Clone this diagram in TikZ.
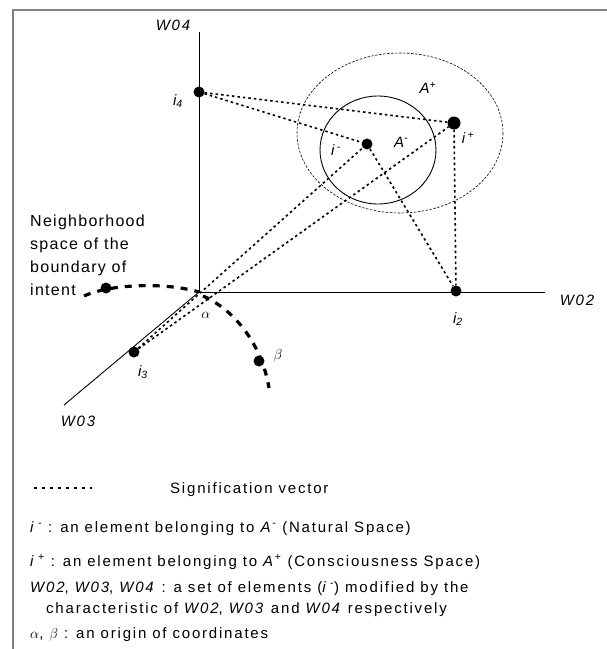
\documentclass[tikz,border=0pt]{standalone}
\usepackage{fontspec}
\setmainfont{Liberation Sans}
\newfontfamily\lblfont{Liberation Sans}[LetterSpace=12]
\newfontfamily\nbhfont{Liberation Sans}[LetterSpace=8]
\tikzset{
  axis/.style={line width=0.9pt},
  sigvec/.style={line width=1.6pt, dash pattern=on 2.5pt off 3pt},
  bound/.style={line width=3.2pt, dash pattern=on 7pt off 7pt},
  elem/.style={circle, fill=black, inner sep=0pt, minimum size=11pt},
  lbl/.style={font=\lblfont\fontsize{15}{18}\selectfont\itshape, inner sep=0pt},
  legend/.style={font=\lblfont\fontsize{15}{18}\selectfont, inner sep=0pt, anchor=base west}
}
\begin{document}
\begin{tikzpicture}[x=1pt,y=-1pt]
\useasboundingbox (0,0) rectangle (607,649);

% ===== frame =====
\draw[gray, line width=1.5pt] (13,649) -- (13,10) -- (607,10);

% ===== axes =====
\coordinate (O) at (199,292);
\coordinate (w4) at (199,32);
\coordinate (w2) at (545,292);
\coordinate (w3) at (64,405);
\draw[axis] (w4) -- (O) -- (w2);
\draw[axis] (O) -- (w3);
\node[lbl] (w4lbl) at (173,25) {W04};
\node[lbl] (w2lbl) at (577,300) {W02};
\node[lbl] (w3lbl) at (78,421) {W03};

% ===== spaces =====
\draw[line width=0.6pt, dash pattern=on 2.5pt off 1.5pt] (400,133) ellipse [x radius=103, y radius=80];
\draw[line width=0.9pt] (378,150) ellipse [x radius=58, y radius=54];
\node[lbl] (aplus) at (428,88) {A\textsuperscript{+}};
\node[lbl] (aminus) at (401,142) {A\textsuperscript{-}};

% ===== elements =====
\node[elem] (i4) at (199,92) {};
\node[elem] (im) at (367,144) {};
\node[elem, minimum size=13pt] (ip) at (454,123) {};
\node[elem] (i2) at (456,291) {};
\node[elem] (i3) at (134,352) {};

\node[lbl] (i4lbl) at (178,101) {i\textsubscript{4}};
\node[lbl] (imlbl) at (336,150) {i\,\textsuperscript{-}};
\node[lbl] (iplbl) at (468,138) {i\,\textsuperscript{+}};
\node[lbl] (i2lbl) at (458,319) {i\textsubscript{2}};
\node[lbl] (i3lbl) at (143,372) {i\textsubscript{3}};

% ===== signification vectors =====
\draw[sigvec] (i4) -- (im);
\draw[sigvec] (i4) -- (ip);
\draw[sigvec] (im) -- (i2);
\draw[sigvec] (ip) -- (i2);
\draw[sigvec] (i3) -- (im);
\draw[sigvec] (i3) -- (ip);

% ===== boundary of intent =====
\coordinate (lb0) at (84,296);
\coordinate (rb1) at (269,388);
\node[elem] (adot) at (106,288) {};
\node[elem] (bdot) at (259,361) {};
\draw[bound] (lb0) .. controls (110,284) and (165,282) .. (O);
\draw[bound] (203,296) .. controls (235,310) and (262,345) .. (rb1);
\node[font=\fontsize{15}{18}\selectfont] (alpha) at (206,315) {$\alpha$};
\node[font=\fontsize{15}{18}\selectfont] (beta) at (278,356) {$\beta$};
\node[font=\nbhfont\fontsize{16}{23}\selectfont, align=left, anchor=north west, inner sep=0pt] (nbh) at (30,215)
  {Neighborhood\\space of the\\boundary of\\intent};

% ===== legend =====
\coordinate (lg0) at (34,488);
\coordinate (lg1) at (92,488);
\draw[line width=1.2pt, dash pattern=on 3pt off 5pt] (lg0) -- (lg1);
\node[legend] (sv) at (170,493) {Signification vector};
\node[legend] (lnat) at (30,532) {\textit{i}\,\textsuperscript{-} : an element belonging to \textit{A}\textsuperscript{-} (Natural Space)};
\node[legend] (lcon) at (30,566) {\textit{i}\,\textsuperscript{+} : an element belonging to \textit{A}\textsuperscript{+} (Consciousness Space)};
\node[legend] (lw) at (30,592) {\textit{W02}, \textit{W03}, \textit{W04} : a set of elements (\textit{i}\,\textsuperscript{-}) modified by the};
\node[legend] (lw2) at (46,613) {characteristic of \textit{W02}, \textit{W03} and \textit{W04} respectively};
\node[legend] (lab) at (30,638) {$\alpha$, $\beta$ : an origin of coordinates};
\end{tikzpicture}
\end{document}
